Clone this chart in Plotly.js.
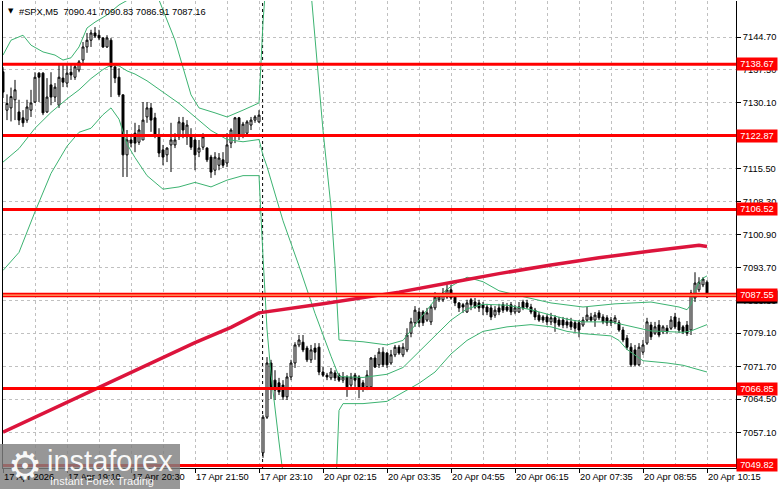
<!DOCTYPE html>
<html><head><meta charset="utf-8">
<script src="https://cdn.plot.ly/plotly-3.0.1.min.js"></script>
<style>html,body{margin:0;padding:0;background:#fff}#chart{width:781px;height:489px}</style>
</head><body><div id="chart"></div>
<script>
// ---- OHLC (M5 bars, 17 Apr 17:50 .. 20 Apr 10:15) ----
const open = [7137.0,7128.5,7129.0,7130.8,7128.1,7126.8,7126.3,7128.5,7130.3,7136.7,
7136.7,7128.1,7134.1,7131.4,7129.6,7135.6,7134.5,7136.9,7135.8,7137.4,
7139.6,7142.5,7144.0,7145.6,7145.1,7144.5,7142.5,7144.0,7138.1,7135.8,
7131.9,7118.6,7121.9,7123.4,7121.4,7121.9,7127.0,7129.0,7126.8,7122.6,
7119.7,7118.6,7120.8,7120.8,7122.6,7125.7,7122.6,7123.0,7121.9,7119.2,
7120.3,7120.1,7118.1,7115.2,7116.3,7117.5,7116.8,7121.2,7123.0,7126.8,
7123.0,7123.4,7125.2,7126.3,7125.9,
7052.6,7060.5,7072.5,7068.7,7068.1,7067.6,7065.0,7069.4,7072.5,7076.5,
7077.1,7075.8,7073.2,7075.8,7076.0,7070.5,7069.8,7069.2,7070.3,7069.8,
7068.7,7069.4,7067.6,7069.8,7069.4,7068.1,7067.2,7067.2,7073.6,7072.1,
7074.9,7074.7,7072.5,7074.3,7076.0,7074.3,7075.4,7079.1,7081.4,7083.8,
7083.8,7082.0,7081.6,7084.7,7086.5,7086.5,7087.1,7088.7,7087.6,7085.8,
7085.4,7083.8,7086.5,7086.0,7085.8,7085.4,7084.9,7084.7,7083.1,7084.7,
7085.4,7084.9,7085.4,7083.8,7083.8,7086.0,7085.8,7084.9,7084.2,7083.1,
7082.7,7082.7,7081.6,7082.5,7082.0,7082.0,7081.6,7081.6,7081.4,7081.4,
7080.9,7082.0,7082.7,7082.0,7083.6,7082.7,7082.5,7082.0,7081.6,7081.4,
7079.8,7078.0,7076.0,7075.4,7072.1,7074.9,7076.9,7080.9,7079.1,7080.9,
7079.4,7080.2,7080.2,7082.7,7081.6,7080.5,7080.9,7079.8,7086.9,7088.7,
7089.8,7090.41];
const high = [7138.0,7132.0,7133.5,7135.2,7130.8,7128.5,7130.8,7133.0,7136.9,7136.9,
7136.9,7135.6,7136.9,7134.5,7138.9,7138.9,7138.9,7138.5,7138.9,7139.6,
7143.6,7145.6,7146.3,7146.9,7146.3,7144.7,7145.1,7144.5,7138.1,7137.8,
7131.9,7124.1,7122.6,7125.7,7125.2,7130.3,7130.3,7130.1,7127.9,7124.5,
7120.8,7120.3,7125.7,7123.4,7127.0,7127.0,7126.3,7124.5,7123.0,7121.9,
7123.4,7120.3,7118.6,7119.2,7119.0,7119.2,7123.4,7124.5,7127.0,7127.0,
7125.9,7126.3,7127.0,7127.4,7128.5,
7061.0,7073.8,7073.2,7070.9,7069.2,7068.7,7070.3,7073.2,7077.1,7078.7,
7078.7,7076.3,7076.5,7076.9,7076.9,7071.6,7070.3,7071.4,7070.9,7070.3,
7070.5,7069.8,7070.3,7070.3,7069.8,7068.7,7070.9,7073.8,7074.3,7075.8,
7076.0,7074.9,7075.4,7076.5,7076.5,7076.9,7080.2,7082.5,7085.1,7084.7,
7084.2,7084.7,7085.4,7088.2,7088.0,7089.1,7089.8,7089.8,7088.0,7086.0,
7085.8,7086.5,7086.9,7086.9,7086.5,7086.0,7085.6,7085.4,7085.1,7085.6,
7086.0,7085.8,7086.0,7085.4,7086.0,7086.5,7086.5,7085.6,7084.7,7083.8,
7083.1,7083.3,7083.6,7083.1,7082.7,7082.7,7082.5,7082.5,7082.0,7082.0,
7082.7,7084.9,7083.6,7083.8,7084.2,7083.3,7083.1,7082.7,7083.1,7082.0,
7080.5,7078.7,7076.9,7076.5,7076.9,7077.6,7082.5,7081.6,7081.6,7082.0,
7080.9,7080.9,7082.9,7083.6,7082.5,7080.9,7081.8,7088.7,7092.6,7091.5,
7091.5,7090.83];
const low = [7131.2,7126.3,7126.0,7126.3,7125.2,7124.8,7125.7,7127.0,7130.1,7130.3,
7127.4,7127.9,7129.6,7130.3,7129.0,7133.6,7133.6,7135.2,7135.2,7136.9,
7138.9,7141.2,7142.5,7144.5,7144.0,7142.3,7142.3,7131.4,7134.5,7131.4,
7113.7,7113.7,7120.3,7119.2,7120.8,7121.9,7125.7,7123.7,7122.3,7118.1,
7116.3,7117.0,7114.8,7120.1,7121.9,7122.3,7120.8,7119.7,7115.2,7118.1,
7119.7,7117.0,7113.5,7114.1,7115.2,7115.7,7115.9,7120.1,7121.2,7121.9,
7122.3,7122.6,7124.1,7125.7,7125.7,
7051.5,7060.1,7064.5,7064.3,7065.4,7064.3,7064.3,7068.7,7071.4,7076.0,
7074.9,7072.7,7072.5,7073.2,7069.8,7069.4,7068.7,7068.7,7068.5,7068.3,
7068.1,7065.0,7066.8,7067.2,7064.7,7066.1,7066.5,7066.8,7071.4,7071.4,
7071.6,7071.4,7072.1,7073.8,7074.3,7073.8,7074.9,7078.2,7080.5,7080.5,
7080.7,7081.6,7080.9,7084.2,7086.0,7086.0,7086.7,7086.5,7085.1,7083.8,
7083.6,7083.6,7084.2,7084.5,7083.8,7083.1,7083.1,7082.0,7082.5,7083.1,
7083.6,7083.8,7083.1,7083.3,7083.6,7084.2,7084.5,7083.3,7082.0,7081.6,
7081.4,7080.9,7080.9,7079.4,7080.5,7080.2,7080.2,7079.8,7079.4,7078.2,
7080.5,7081.6,7081.6,7080.5,7082.0,7081.1,7080.7,7080.7,7081.1,7079.4,
7077.1,7075.4,7071.6,7071.8,7071.8,7074.3,7076.5,7077.6,7078.7,7078.2,
7078.9,7078.9,7079.8,7080.0,7079.1,7078.9,7078.5,7078.7,7086.0,7088.2,
7089.3,7086.91];
const close = [7132.5,7130.0,7131.5,7133.0,7126.3,7125.7,7129.2,7130.1,7135.8,7135.8,
7127.9,7131.4,7131.4,7133.6,7135.8,7134.7,7136.7,7136.3,7138.1,7139.2,
7142.5,7144.0,7145.6,7144.9,7144.5,7142.5,7144.5,7138.1,7135.6,7131.9,
7118.6,7121.9,7121.2,7121.2,7124.1,7126.3,7129.0,7126.3,7123.0,7119.0,
7118.1,7120.1,7121.9,7121.9,7125.9,7124.1,7125.2,7120.3,7118.6,7120.1,
7122.6,7117.5,7114.8,7118.1,7117.9,7116.3,7120.8,7124.1,7126.8,7123.0,
7125.4,7125.9,7126.3,7127.0,7127.4,
7060.5,7072.5,7067.2,7066.5,7066.1,7065.0,7069.4,7072.5,7076.5,7077.6,
7075.4,7073.2,7075.4,7074.9,7070.5,7069.8,7069.4,7070.5,7069.2,7068.7,
7069.4,7067.2,7069.4,7068.7,7067.2,7067.2,7069.8,7073.6,7071.6,7074.9,
7072.1,7072.1,7074.3,7076.0,7074.7,7076.0,7078.7,7081.6,7084.2,7081.4,
7081.4,7083.6,7084.9,7087.1,7087.1,7088.0,7088.7,7086.9,7085.8,7084.7,
7084.9,7085.8,7085.4,7084.9,7084.7,7084.7,7083.8,7082.7,7084.2,7083.8,
7084.2,7084.2,7083.8,7084.7,7084.9,7084.7,7084.9,7083.8,7082.7,7082.0,
7082.0,7081.6,7082.5,7081.4,7080.9,7080.9,7080.9,7080.5,7080.2,7079.8,
7082.0,7083.1,7082.0,7083.1,7082.5,7081.6,7081.4,7081.4,7082.5,7079.8,
7077.6,7076.0,7072.1,7072.1,7076.0,7076.5,7081.6,7078.3,7080.5,7078.7,
7080.5,7079.4,7082.0,7080.5,7079.8,7079.4,7079.1,7088.0,7090.2,7090.4,
7091.1,7087.16];

// ---- Bollinger bands (read at sampled bars) ----
const bbUpX = [0,2,5,7,10,13,15,17,19,21,23,26,29,32,36,39,40,43,47,49,53,56,60,64,65,66,76,78,80,82,83,84,90,96,100,104,108,112,116,120,124,130,137,145,153,162,169,171,172,173,174,175,176];
const bbUpY = [7140.7,7144.0,7145.1,7142.9,7141.4,7140.7,7139.6,7140.1,7142.5,7146.7,7148.0,7149.6,7151.8,7153.3,7154.2,7152.9,7150.7,7144.0,7131.9,7129.0,7127.9,7127.0,7128.5,7130.1,7148,7160,7165,7145,7124,7107,7094,7077.6,7077.2,7076.5,7077.5,7082,7086.5,7089.5,7091.5,7090.5,7088.5,7087.2,7085.8,7084.9,7085.6,7086.0,7084.9,7084.3,7085.5,7088.5,7090.3,7091.3,7091.8];
const bbMidX = [0,4,8,12,16,19,22,25,27,29,31,33,36,40,44,48,52,56,60,64,65,66,70,74,78,82,84,90,96,100,104,108,112,116,120,126,132,137,141,145,152,156,162,170,172,174,176];
const bbMidY = [7117,7120,7124.5,7128,7131,7133,7135.5,7137.5,7138.5,7138.3,7137.2,7136.5,7135,7132.5,7130,7127,7124,7122,7121.5,7122,7118.5,7116,7104,7094,7083.5,7074,7069.5,7069.3,7070,7071.5,7075,7078.5,7082,7084.5,7085.5,7085.3,7084.3,7083.1,7082.2,7081.6,7081.6,7080.8,7079.6,7079.3,7079.6,7080.3,7081];
const bbLoX = [0,4,8,12,16,19,22,25,27,29,31,33,36,40,44,48,52,56,60,64,65,66,67,68,69,70,72,82,83,84,85,90,96,100,104,108,112,116,120,126,132,137,141,145,152,154,156,160,166,170,174,176];
const bbLoY = [7093,7097,7106,7114.5,7120.5,7123.6,7124.5,7127.5,7129,7126.5,7121,7118,7114,7111,7111.5,7112.5,7111.5,7113,7114,7114,7096,7080,7070,7062,7055,7048,7035,7035,7040,7062,7063.5,7063.5,7064,7066,7068,7070.5,7074.5,7077.5,7079.5,7080.5,7081,7080.5,7079.5,7079,7078.5,7077.5,7075.5,7073,7072.5,7072,7071,7070.5];

// ---- Moving average (read at sampled bars) ----
const maX = [0,16,32,48,57,64,80,99,113,124,137,149,162,172,174,176];
const maY = [7057.2,7063.8,7070.4,7077.0,7080.4,7083.6,7085.6,7088.2,7090.5,7092.3,7094.2,7095.8,7097.3,7098.5,7098.6,7098.3];

// ---- Horizontal levels ----
const levels = [7138.67, 7122.87, 7106.52, 7087.55, 7066.85, 7049.82];
const bidPrice = 7087.16;

// ---- Axis ticks ----
const priceTicks = [7144.70,7137.50,7130.10,7122.90,7115.50,7108.30,7100.90,7093.70,7086.30,7079.10,7071.70,7064.50,7057.10,7049.90];
const timeTickBars = [0,16,32,48,64,80,96,112,128,144,160,176];
const timeTickLabels = ["17 Apr 2026","17 Apr 19:10","17 Apr 20:30","17 Apr 21:50","17 Apr 23:10","20 Apr 02:15","20 Apr 03:35","20 Apr 04:55","20 Apr 06:15","20 Apr 07:35","20 Apr 08:55","20 Apr 10:15"];
const dayStartBar = 65;
const header = "#SPX,M5\u00a0\u00a07090.41 7090.83 7086.91 7087.16";

const FONT = 'Liberation Sans, Arial, sans-serif';
const FS = 9.3;
const barIdx = open.map((_, i) => i);
const green = '#3cb371';

const traces = [
  {type:'candlestick', x:barIdx, open:open, high:high, low:low, close:close,
   increasing:{line:{color:'#000',width:1}, fillcolor:'#ffffff'},
   decreasing:{line:{color:'#000',width:1}, fillcolor:'#000000'},
   whiskerwidth:0, hoverinfo:'skip', showlegend:false},
  {type:'scatter', mode:'lines', x:bbUpX, y:bbUpY, line:{color:green,width:1}, hoverinfo:'skip', showlegend:false},
  {type:'scatter', mode:'lines', x:bbMidX, y:bbMidY, line:{color:green,width:1}, hoverinfo:'skip', showlegend:false},
  {type:'scatter', mode:'lines', x:bbLoX, y:bbLoY, line:{color:green,width:1}, hoverinfo:'skip', showlegend:false},
  {type:'scatter', mode:'lines', x:maX, y:maY, line:{color:'#dc143c',width:3.5}, hoverinfo:'skip', showlegend:false}
];

const shapes = [];
shapes.push({type:'line', xref:'x', yref:'paper', x0:dayStartBar-0.1, x1:dayStartBar-0.1, y0:0, y1:1,
  line:{color:'#000', width:1, dash:'3px,3px'}, layer:'between'});
levels.forEach(v => {
  shapes.push({type:'line', xref:'paper', x0:0, x1:1, yref:'y', y0:v, y1:v, line:{color:'#ff0000', width:3}, layer:'above'});
});
shapes.push({type:'line', xref:'paper', x0:0, x1:1, yref:'y', y0:levels[3], y1:levels[3], line:{color:'#ff0000', width:4.5}, layer:'above'});
shapes.push({type:'line', xref:'paper', x0:0, x1:1, yref:'y', y0:levels[3], y1:levels[3], line:{color:'#ffb070', width:1.2}, layer:'above'});
// watermark box
shapes.push({type:'rect', xref:'paper', yref:'paper', x0:-3/733, x1:177/733, y0:-21/467, y1:24/467,
  fillcolor:'rgba(128,128,128,0.82)', line:{width:0}, layer:'above'});

const annotations = [];
timeTickBars.forEach((b, k) => {
  annotations.push({xref:'x', x:b, xanchor:'left', xshift:-1, yref:'paper', y:0, yanchor:'middle', yshift:-9,
    text:timeTickLabels[k], showarrow:false, font:{family:FONT, size:FS, color:'#000'}});
});
annotations.push({xref:'paper', x:1, xanchor:'left', yref:'y', y:bidPrice, yanchor:'middle',
  text:bidPrice.toFixed(2), showarrow:false, bgcolor:'#000', width:40, height:12, borderpad:0,
  font:{family:FONT, size:FS, color:'#fff'}});
levels.forEach(v => {
  annotations.push({xref:'paper', x:1, xanchor:'left', yref:'y', y:v, yanchor:'middle',
    text:v.toFixed(2), showarrow:false, bgcolor:'#ff0000', width:40, height:12, borderpad:0,
    font:{family:FONT, size:FS, color:'#fff'}});
});
annotations.push({xref:'paper', x:0, xanchor:'left', xshift:3, yref:'paper', y:1, yanchor:'middle', yshift:-10,
  text:'\u25BC', showarrow:false, font:{family:'DejaVu Sans', size:7, color:'#000'}});
annotations.push({xref:'paper', x:0, xanchor:'left', xshift:14, yref:'paper', y:1, yanchor:'middle', yshift:-10.5,
  text:header, showarrow:false, font:{family:FONT, size:FS, color:'#000'}});
// watermark texts
annotations.push({xref:'paper', x:22/733, xanchor:'center', yref:'paper', y:2/467, yanchor:'middle',
  text:'\u2699', showarrow:false, font:{family:'DejaVu Sans', size:38, color:'rgba(255,255,255,0.95)'}});
annotations.push({xref:'paper', x:42/733, xanchor:'left', yref:'paper', y:7/467, yanchor:'middle',
  text:'instaforex', showarrow:false, font:{family:FONT, size:29, color:'rgba(255,255,255,0.95)'}});
annotations.push({xref:'paper', x:45/733, xanchor:'left', yref:'paper', y:-13/467, yanchor:'middle',
  text:'Instant Forex Trading', showarrow:false, font:{family:FONT, size:11, color:'rgba(255,255,255,0.95)'}});

const layout = {
  width:781, height:489,
  margin:{l:3, r:45, t:1, b:21, pad:0},
  paper_bgcolor:'#ffffff', plot_bgcolor:'#ffffff',
  showlegend:false, dragmode:false,
  xaxis:{range:[0,183.25], rangeslider:{visible:false}, tickmode:'array', tickvals:timeTickBars,
    ticktext:timeTickBars.map(() => ''), ticks:'outside', ticklen:4, tickcolor:'#000',
    showgrid:true, gridcolor:'#c0c0c0', griddash:'3px,3px', gridwidth:1,
    minor:{tickmode:'linear', tick0:8, dtick:16, showgrid:true, gridcolor:'#c0c0c0', griddash:'3px,3px', ticks:''},
    showline:true, linecolor:'#000', linewidth:1, zeroline:false, fixedrange:true},
  yaxis:{side:'right', range:[7049.24, 7152.68], tickmode:'array', tickvals:priceTicks,
    ticktext:priceTicks.map(v => v.toFixed(2)), ticks:'outside', ticklen:4, tickcolor:'#000',
    tickfont:{family:FONT, size:FS, color:'#000'},
    showgrid:true, gridcolor:'#c0c0c0', griddash:'3px,3px', gridwidth:1,
    showline:true, linecolor:'#000', linewidth:1, mirror:true, zeroline:false, fixedrange:true},
  shapes:shapes, annotations:annotations
};
Plotly.newPlot('chart', traces, layout, {staticPlot:true, displayModeBar:false});
</script></body></html>
